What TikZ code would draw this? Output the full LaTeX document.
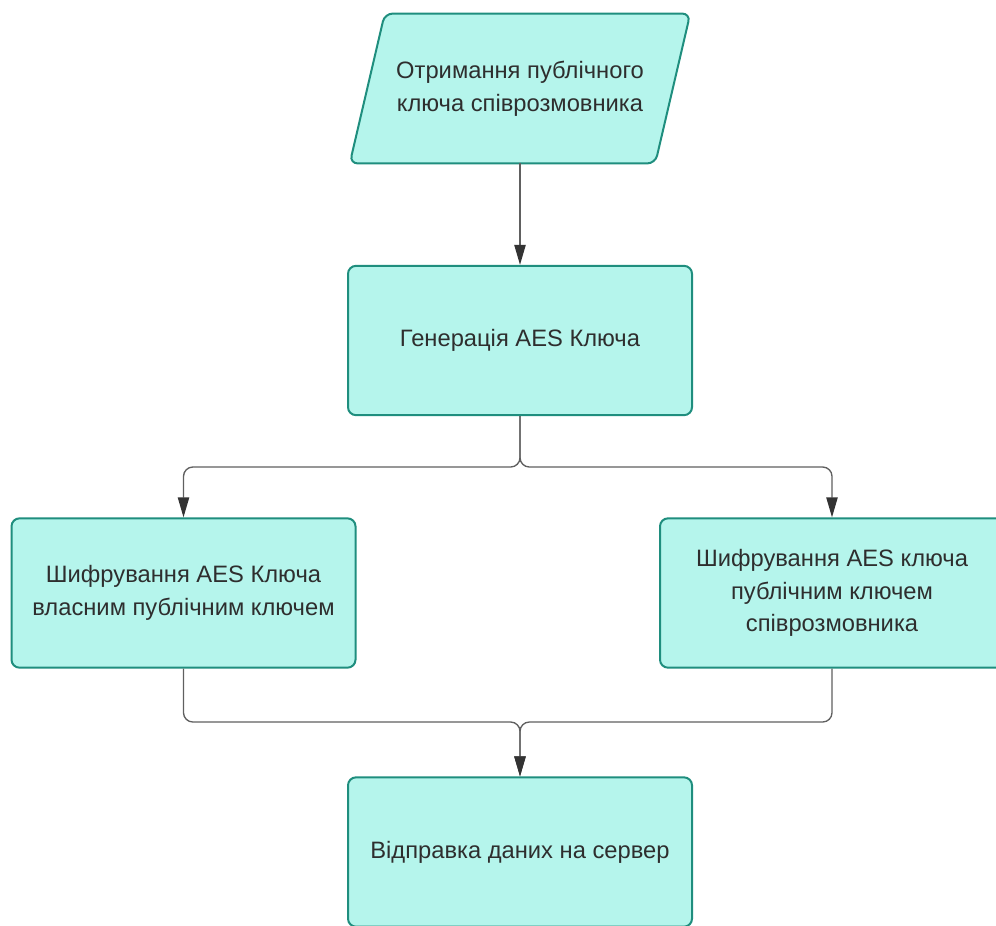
\documentclass[tikz,border=0pt]{standalone}
\usepackage{fontspec}
\setmainfont{Liberation Sans}
\usetikzlibrary{arrows.meta,calc}
\definecolor{boxfill}{HTML}{B5F5EC}
\definecolor{boxline}{HTML}{1F8E7E}
\definecolor{wire}{HTML}{606060}
\definecolor{tip}{HTML}{333333}
\definecolor{txt}{HTML}{2E2E2E}
\begin{document}
\begin{tikzpicture}[x=0.75pt,y=-0.75pt,
  label/.style={text=txt, align=center, font=\fontsize{17.8}{24.5}\selectfont, inner sep=0pt},
  outline/.style={draw=boxline, fill=boxfill, line width=1.5pt, rounded corners=6pt},
  stepbox/.style={outline, label, minimum width=258pt, minimum height=112pt},
  flow/.style={draw=wire, line width=1pt, rounded corners=7pt,
    -{Triangle[length=15pt,width=8.5pt,color=tip]}}]
\useasboundingbox (0,0) rectangle (996,925);

% input step: parallelogram drawn around a plain text node
\node[label, minimum width=255pt, minimum height=112pt] (p) at (520,88.5) {};
\draw[outline] ($(p.north west)+(35,0)$) -- (p.north east)
  -- ($(p.south east)-(35,0)$) -- (p.south west) -- cycle;
\node[label] at (p.center) {Отримання публічного\\ключа співрозмовника};

% process steps
\node[stepbox] (g) at (520,340.5) {Генерація AES Ключа};
\node[stepbox] (l) at (183.5,593) {Шифрування AES Ключа\\власним публічним ключем};
\node[stepbox] (r) at (832,593) {Шифрування AES ключа\\публічним ключем\\співрозмовника};
\node[stepbox] (s) at (520,852) {\raisebox{-3pt}{Відправка даних на сервер}};

% junction levels
\coordinate (fork) at (520,467);
\coordinate (merge) at (520,722);

% connectors
\draw[flow] (p.south) -- (g.north);
\draw[flow] (g.south) -- (g.south |- fork) -- (l.north |- fork) -- (l.north);
\draw[flow] (g.south) -- (g.south |- fork) -- (r.north |- fork) -- (r.north);
\draw[flow] (l.south) -- (l.south |- merge) -- (s.north |- merge) -- (s.north);
\draw[flow] (r.south) -- (r.south |- merge) -- (s.north |- merge) -- (s.north);
\end{tikzpicture}
\end{document}
